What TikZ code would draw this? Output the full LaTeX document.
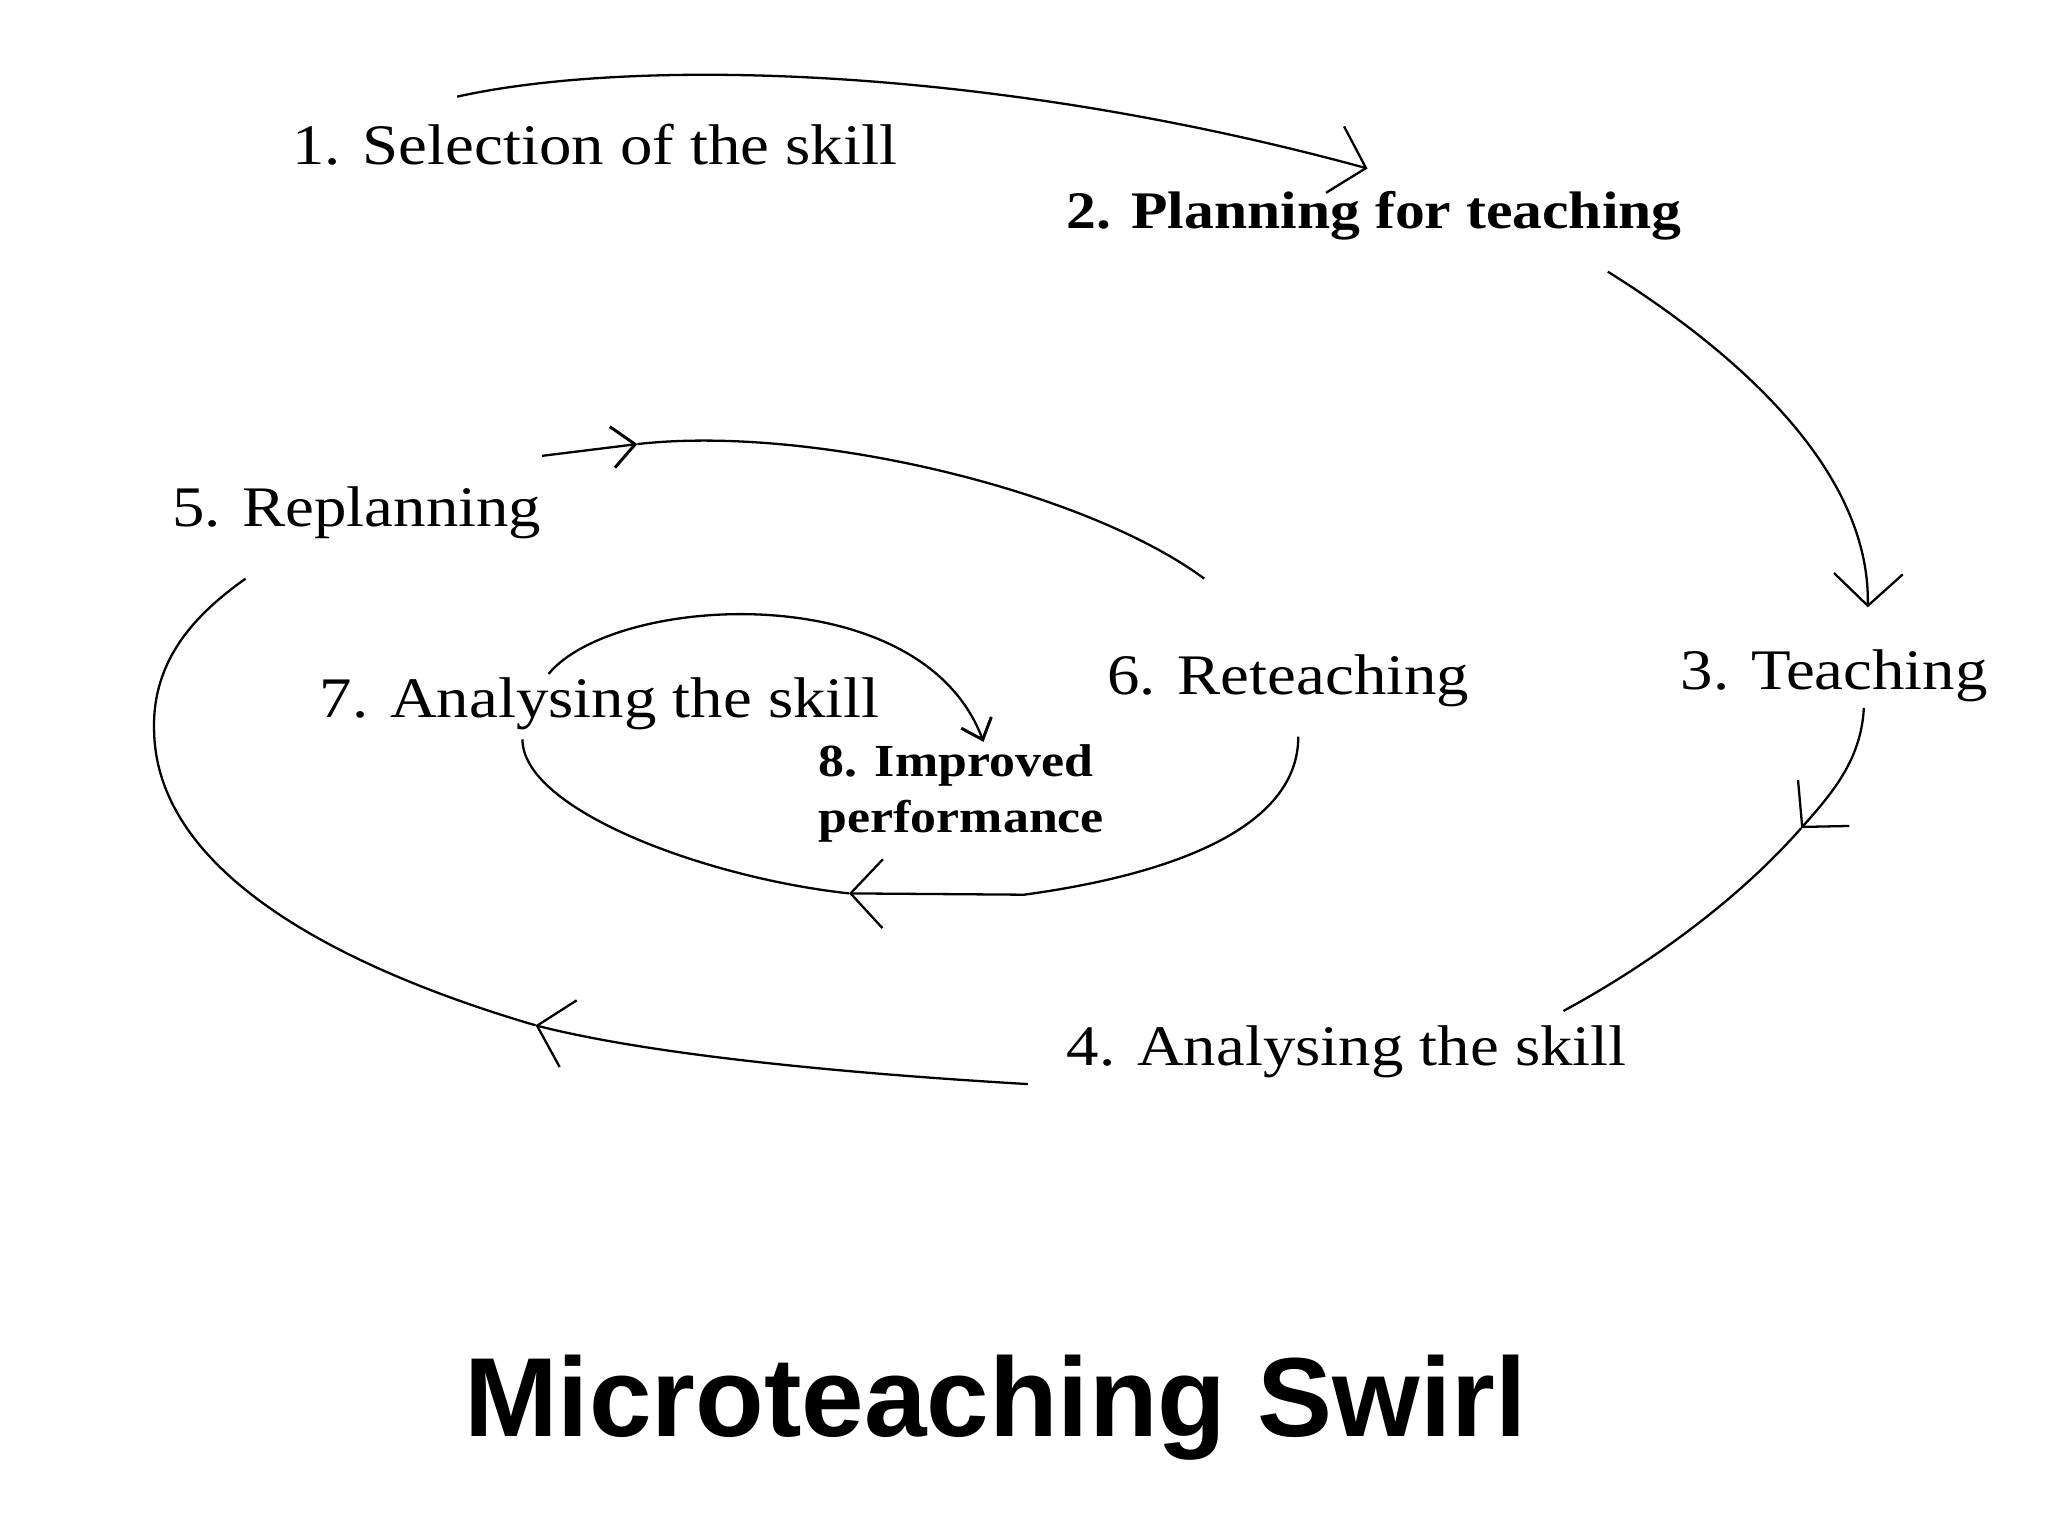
\documentclass[tikz,border=0pt]{standalone}
\usepackage{fontspec}
\setmainfont{Liberation Serif}[FakeStretch=1.13]
\newfontfamily\titlefont{Liberation Sans}
\usetikzlibrary{arrows.meta}
\begin{document}
\begin{tikzpicture}[x=0.02cm,y=-0.02cm,line width=1pt,
  lbl/.style={anchor=base west,inner sep=0pt,font=\fontsize{25}{30}\selectfont},
  lblb/.style={anchor=base west,inner sep=0pt,font=\bfseries\fontsize{23}{28}\selectfont},
  lbls/.style={anchor=base west,inner sep=0pt,align=left,font=\bfseries\fontsize{20}{24}\selectfont},
  arr/.style={-{Straight Barb[length=14pt,width=30pt,line width=1pt]}},
  arrmid/.style={-{Straight Barb[length=10pt,width=18pt,line width=1.3pt]}},
  arrsmall/.style={-{Straight Barb[length=8pt,width=14pt,line width=1.3pt]}}]
\useasboundingbox (0,0) rectangle (1568,1176);
% labels
\node[lbl]  (s1) at (223,126) {1. Selection of the skill};
\node[lblb] (s2) at (816,175) {2. Planning for teaching};
\node[lbl]  (s3) at (1286,528) {3. Teaching};
\node[lbl]  (s4) at (816,816) {4. Analysing the skill};
\node[lbl]  (s5) at (131,403) {5. Replanning};
\node[lbl]  (s6) at (847,532) {6. Reteaching};
\node[lbl]  (s7) at (244,549) {7. Analysing the skill};
\node[lbls] (s8) at (626,637) {8. Improved\\performance};
\node[anchor=base,inner sep=0pt,font=\titlefont\bfseries\fontsize{49}{58}\selectfont] (title) at (762,1100) {Microteaching Swirl};
% connector end points
\coordinate (a1) at (350,74);   \coordinate (a2) at (1047,129);
\coordinate (b1) at (1231,208); \coordinate (b2) at (1430,465);
\coordinate (c1) at (1427,542); \coordinate (cm) at (1379,634); \coordinate (c2) at (1197,774);
\coordinate (d1) at (787,830);  \coordinate (dm) at (410,785);  \coordinate (d2) at (188,443);
\coordinate (e1) at (415,349);  \coordinate (em) at (488,340);  \coordinate (e2) at (922,443);
\coordinate (f1) at (994,564);  \coordinate (fm) at (650,684);  \coordinate (f2) at (400,566);
\coordinate (g1) at (420,516);  \coordinate (g2) at (753,568);
% 1 -> 2
\draw[arr] (a1) .. controls (480,45) and (750,48) .. (a2);
% 2 -> 3
\draw[arr] (b1) .. controls (1330,270) and (1432,360) .. (b2);
% 3 -> 4
\draw[arr] (c1) .. controls (1425,580) and (1405,605) .. (cm);
\draw (cm) .. controls (1330,690) and (1260,740) .. (c2);
% 4 -> 5
\draw[arr] (d1) .. controls (650,822) and (500,808) .. (dm);
\draw (dm) .. controls (240,735) and (120,660) .. (118,560) .. controls (116,505) and (150,470) .. (d2);
% 5 -> 6
\draw[arrmid] (e1) -- (em);
\draw (em) .. controls (620,325) and (830,375) .. (e2);
% 6 -> 7
\draw[arr] (f1) .. controls (994,640) and (880,672) .. (784,685) -- (fm);
\draw (fm) .. controls (540,672) and (400,620) .. (f2);
% 7 -> 8
\draw[arrsmall] (g1) .. controls (470,455) and (705,440) .. (g2);
\end{tikzpicture}
\end{document}
